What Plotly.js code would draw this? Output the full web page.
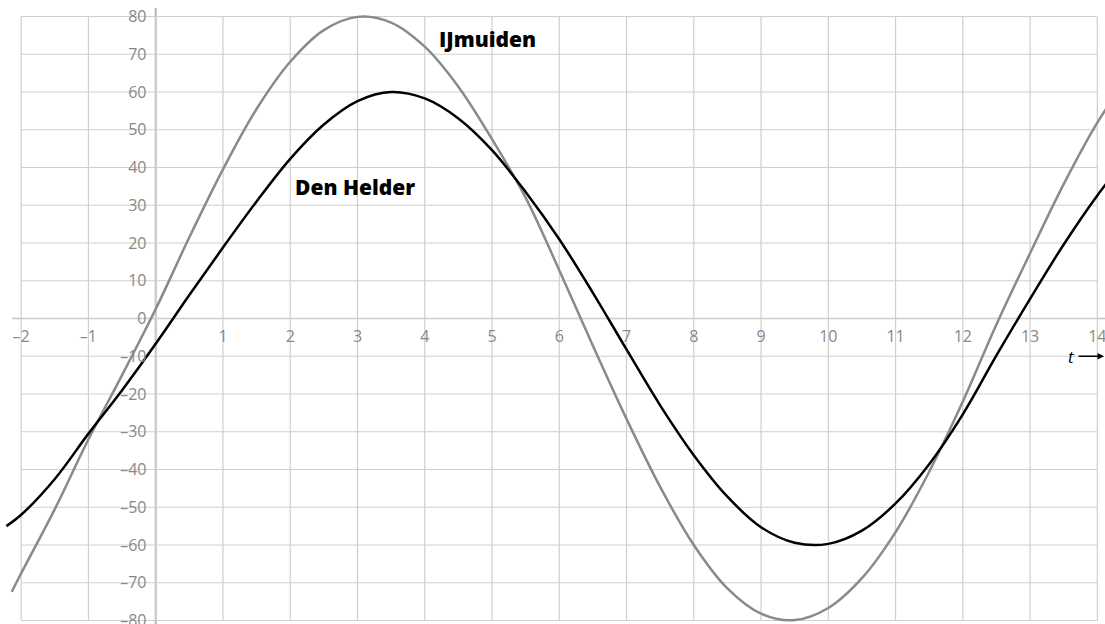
<!DOCTYPE html>
<html>
<head>
<meta charset="utf-8">
<script src="https://cdn.plot.ly/plotly-3.0.1.min.js"></script>
<style>html,body{margin:0;padding:0;background:#fff;}#chart{width:1105px;height:624px;}</style>
</head>
<body>
<div id="chart"></div>
<script>
// time in hours
const tIJmuiden = [-2.14,-2.0,-1.5,-1.0,-0.5,0,0.5,1.0,1.5,2.0,2.5,3.0,3.5,4.0,4.5,5.0,5.5,6.0,6.5,7.0,7.5,8.0,8.5,9.0,9.5,10.0,10.5,11.0,11.5,12.0,12.5,13.0,13.5,14.0,14.5];
// water level IJmuiden (cm)
const ijmuiden = [-72.4,-67.5,-50.5,-32.0,-15.0,2.5,21.5,39.5,55.5,68.0,76.4,79.9,78.4,72.0,61.4,47.5,32.0,12.8,-7.2,-26.6,-44.6,-60.0,-71.5,-78.2,-79.9,-76.7,-68.8,-56.6,-40.6,-22.0,-1.6,17.3,35.6,51.9,65.1];
// time in hours
const tDenHelder = [-2.22,-2.0,-1.5,-1.0,-0.5,0,0.5,1.0,1.5,2.0,2.5,3.0,3.5,4.0,4.5,5.0,5.5,6.0,6.5,7.0,7.5,8.0,8.5,9.0,9.5,10.0,10.5,11.0,11.5,12.0,12.5,13.0,13.5,14.0,14.5];
// water level Den Helder (cm)
const denHelder = [-55.0,-52.0,-42.5,-30.5,-19.0,-6.7,6.2,18.8,31.0,42.3,51.4,57.6,60.0,58.3,53.0,44.6,33.5,21.0,6.8,-8.2,-23.0,-36.2,-47.2,-55.3,-59.4,-59.7,-56.2,-49.0,-38.6,-25.4,-9.8,5.2,19.6,32.6,43.9];

const xTicks = [-2,-1,1,2,3,4,5,6,7,8,9,10,11,12,13,14];
const xTickText = ['–2','–1','1','2','3','4','5','6','7','8','9','10','11','12','13','14'];
const xGrid = [-2,-1,0,1,2,3,4,5,6,7,8,9,10,11,12,13,14];
const yTicks = [80,70,60,50,40,30,20,10,0,-10,-20,-30,-40,-50,-60,-70,-80];
const yTickText = ['80','70','60','50','40','30','20','10','0','–10','–20','–30','–40','–50','–60','–70','–80'];

const xMin = -2, xMax = 14, yMin = -80, yMax = 80;
const gridColor = '#cfcfcf';
const shapes = [];
xGrid.forEach(v => shapes.push({type:'line', xref:'x', yref:'y', x0:v, x1:v, y0:yMin, y1:yMax, layer:'below', line:{color:gridColor, width:1.2}}));
yTicks.forEach(v => shapes.push({type:'line', xref:'x', yref:'y', x0:xMin, x1:xMax, y0:v, y1:v, layer:'below', line:{color:gridColor, width:1.2}}));
// axes
shapes.push({type:'line', xref:'x', yref:'paper', x0:0, x1:0, y0:0, y1:0.987, layer:'below', line:{color:'#b4b4b4', width:2}});
shapes.push({type:'line', xref:'paper', yref:'y', x0:0.011, x1:1, y0:0, y1:0, layer:'below', line:{color:'#c4c4c4', width:1.5}});

const tickFont = {family:'Open Sans, sans-serif', size:16, color:'#888888'};

const traces = [
  {x:tIJmuiden, y:ijmuiden, mode:'lines', name:'IJmuiden', line:{color:'#8a8a8a', width:2.5, shape:'spline', smoothing:1}, hoverinfo:'skip'},
  {x:tDenHelder, y:denHelder, mode:'lines', name:'Den Helder', line:{color:'#000000', width:2.5, shape:'spline', smoothing:1}, hoverinfo:'skip'}
];

const layout = {
  width:1105, height:624,
  margin:{l:0, r:0, t:0, b:0, pad:0},
  paper_bgcolor:'#ffffff', plot_bgcolor:'#ffffff',
  showlegend:false,
  xaxis:{range:[-2.315, 14.114], showgrid:false, zeroline:false, showline:false,
         tickmode:'array', tickvals:xTicks, ticktext:xTickText, ticks:'outside', ticklen:3, tickcolor:'rgba(0,0,0,0)',
         anchor:'free', position:0.4896, tickfont:tickFont, ticklabeloverflow:'allow', fixedrange:true},
  yaxis:{range:[-80.93, 84.37], showgrid:false, zeroline:false, showline:false,
         tickmode:'array', tickvals:yTicks, ticktext:yTickText, ticks:'outside', ticklen:6, tickcolor:'rgba(0,0,0,0)',
         anchor:'free', position:0.1409, tickfont:tickFont, ticklabeloverflow:'allow', fixedrange:true},
  shapes:shapes,
  annotations:[
    {x:4.94, y:74, xref:'x', yref:'y', text:'IJmuiden', showarrow:false, font:{family:'Open Sans, sans-serif', size:21, color:'#000', weight:800}},
    {x:2.96, y:34.8, xref:'x', yref:'y', text:'Den Helder', showarrow:false, font:{family:'Open Sans, sans-serif', size:21, color:'#000', weight:800}},
    {x:13.62, y:-10, xref:'x', yref:'y', text:'<i>t</i>', showarrow:false, font:{family:'Open Sans, sans-serif', size:17, color:'#000'}},
    {x:14.1, y:-10, xref:'x', yref:'y', ax:-27, ay:0, text:'', showarrow:true, arrowhead:2, arrowsize:1, arrowwidth:1.3, arrowcolor:'#000'}
  ]
};

Plotly.newPlot('chart', traces, layout, {staticPlot:true, displayModeBar:false});
</script>
</body>
</html>
